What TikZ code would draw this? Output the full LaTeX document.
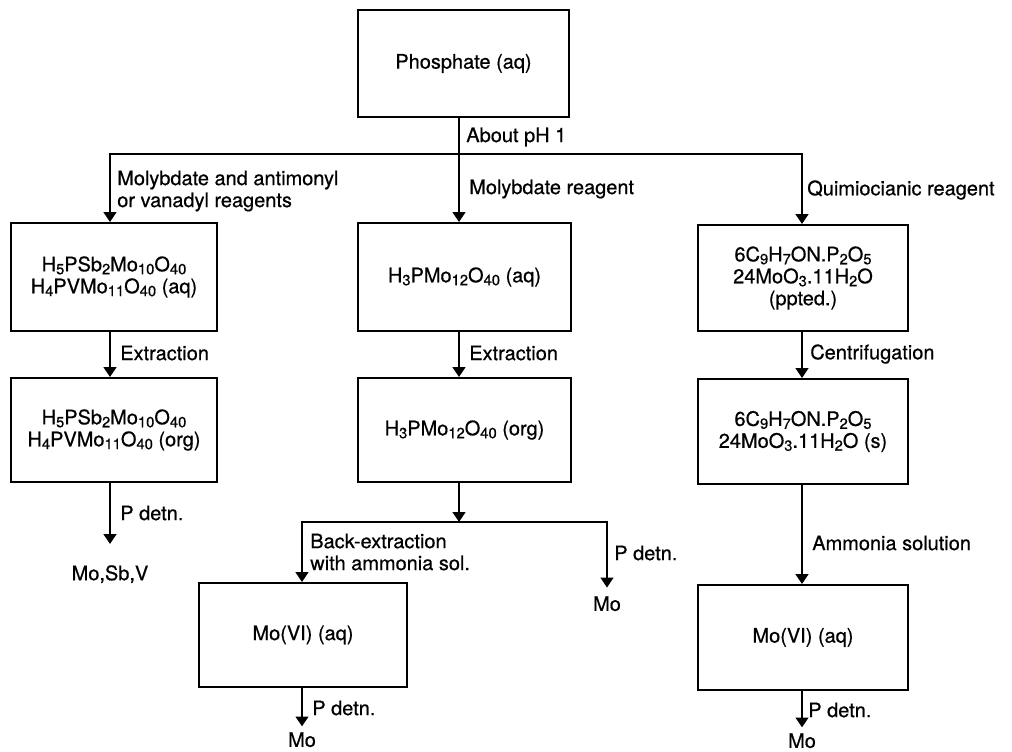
\documentclass[tikz,border=0pt]{standalone}
\usepackage{fontspec}
\setmainfont{TeX Gyre Heros}[FakeBold=0.6]
\usetikzlibrary{arrows.meta}
\newcommand\dn[1]{\raisebox{-0.28ex}{\fontsize{10.5}{10}\selectfont #1}}

\begin{document}
\begin{tikzpicture}[x=0.025cm,y=-0.025cm,
  font=\fontsize{14.2}{15.6}\selectfont,
  box/.style={draw,line width=1.4pt,align=center,inner sep=0pt},
  sized/.style 2 args={minimum width=#1*0.025cm,minimum height=#2*0.025cm},
  arr/.style={line width=1.4pt,-{Triangle[width=9pt,length=7pt]}},
  lab/.style={anchor=west,align=left,inner sep=0pt},
  tail/.style={anchor=north,inner sep=0pt}]
\useasboundingbox (0,0) rectangle (1012,751);

\coordinate (colA) at (110,0);
\coordinate (colB) at (459,0);
\coordinate (colC) at (802,0);

\node[box,sized={211}{107}] (phos) at (463.5,63.5) {Phosphate (aq)};
\node[box,sized={206}{108}] (hpsb) at (114,277)
  {H\dn5PSb\dn2Mo\dn{10}O\dn{40}\\H\dn4PVMo\dn{11}O\dn{40} (aq)};
\node[box,sized={206}{104}] (hpsbo) at (114,430)
  {H\dn5PSb\dn2Mo\dn{10}O\dn{40}\\H\dn4PVMo\dn{11}O\dn{40} (org)};
\node[box,sized={213}{108}] (hpmo) at (464.5,277) {H\dn3PMo\dn{12}O\dn{40} (aq)};
\node[box,sized={213}{104}] (hpmoo) at (464.5,430) {H\dn3PMo\dn{12}O\dn{40} (org)};
\node[box,sized={210}{106}] (quim) at (803,278)
  {6C\dn9H\dn7ON.P\dn2O\dn5\\24MoO\dn3.11H\dn2O\\(ppted.)};
\node[box,sized={210}{105}] (quims) at (803,431.5)
  {6C\dn9H\dn7ON.P\dn2O\dn5\\24MoO\dn3.11H\dn2O (s)};
\node[box,sized={208}{104}] (movi) at (303,635) {Mo(VI) (aq)};
\node[box,sized={210}{105}] (movir) at (803,637.5) {Mo(VI) (aq)};

\node[tail] (mosbv) at (110,565) {Mo,Sb,V};
\node[tail] (moa) at (607,596) {Mo};
\node[tail] (mob) at (302,732) {Mo};
\node[tail] (moc) at (802,733) {Mo};

\node[lab] (ph) at (466,137) {About pH 1};
\node[lab] (lreag) at (117,191) {Molybdate and antimonyl\\or vanadyl reagents};
\node[lab] (mreag) at (469,189) {Molybdate reagent};
\node[lab] (rreag) at (807,190) {Quimiocianic reagent};
\node[lab] (lext) at (120,353) {Extraction};
\node[lab] (mext) at (469,353) {Extraction};
\node[lab] (cent) at (810,354) {Centrifugation};
\node[lab] (lpd) at (120,513) {P detn.};
\node[lab] (back) at (310,552) {Back-extraction\\with ammonia sol.};
\node[lab] (mpd) at (614,553) {P detn.};
\node[lab] (amm) at (812,543) {Ammonia solution};
\node[lab] (bpd) at (312,708) {P detn.};
\node[lab] (rpd) at (808,710) {P detn.};

\coordinate (split) at (459,154);
\coordinate (msplit) at (459,522);

\draw[line width=1.4pt] (phos.south -| split) -- (split);
\draw[arr] (split) -| (colA |- hpsb.north);
\draw[arr] (split) -- (colB |- hpmo.north);
\draw[arr] (split) -| (colC |- quim.north);

\draw[arr] (colA |- hpsb.south) -- (colA |- hpsbo.north);
\draw[arr] (colA |- hpsbo.south) -- ++(0,61);
\draw[arr] (colB |- hpmo.south) -- (colB |- hpmoo.north);
\draw[arr] (colB |- hpmoo.south) -- (msplit);
\draw[arr] (msplit) -| (movi.north -| mob);
\draw[arr,shorten >=6pt] (msplit) -| (moa.north);
\draw[arr] (colC |- quim.south) -- (colC |- quims.north);
\draw[arr] (colC |- quims.south) -- (colC |- movir.north);

\draw[arr,shorten >=4pt] (movi.south -| mob) -- (mob.north);
\draw[arr,shorten >=4pt] (colC |- movir.south) -- (moc.north);
\end{tikzpicture}
\end{document}
